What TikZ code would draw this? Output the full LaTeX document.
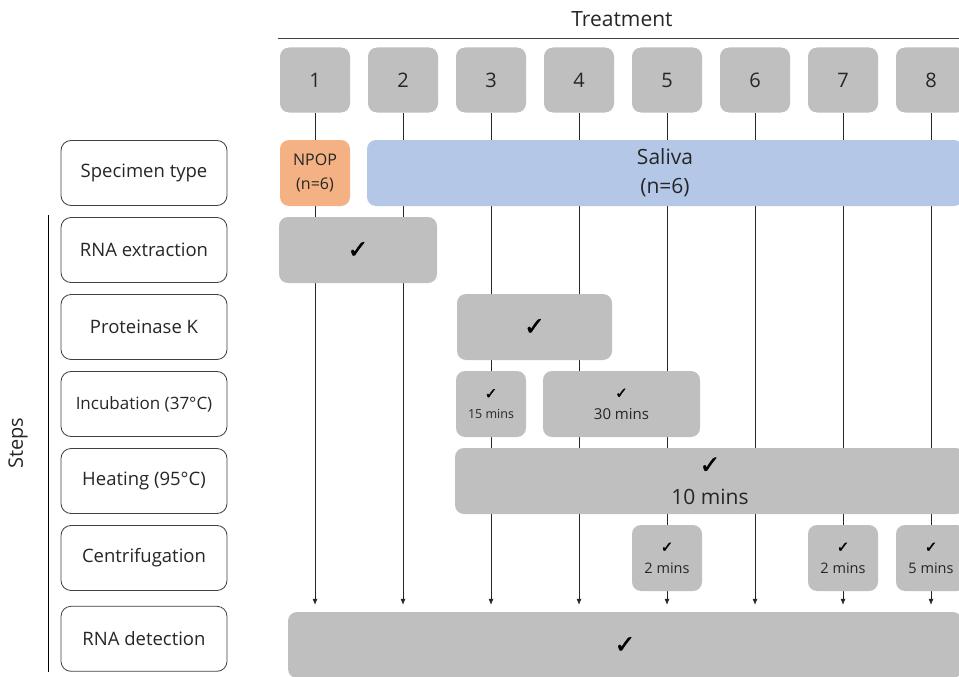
\documentclass[tikz,border=0pt]{standalone}
\usepackage{fontspec}
\setmainfont{Open Sans}
\newfontfamily\tickfont[FakeBold=1.6]{DejaVu Sans}
\usetikzlibrary{arrows.meta, positioning, calc, backgrounds}
\definecolor{cBox}{HTML}{BFBFBF}
\definecolor{cNpop}{HTML}{F4B183}
\definecolor{cSaliva}{HTML}{B4C7E7}
\definecolor{cInk}{HTML}{262626}
\definecolor{cEdge}{HTML}{404040}
\tikzset{
  rowlab/.style={rectangle, rounded corners=10pt, draw=cEdge, line width=0.8pt, fill=white,
    align=center, font=\fontsize{18.5}{22}\selectfont, text=cInk, minimum width=166pt, minimum height=65pt},
  numbox/.style={rectangle, rounded corners=9pt, fill=cBox, font=\fontsize{20}{24}\selectfont,
    text=cInk, minimum width=70pt, minimum height=65pt},
  tickbox/.style={rectangle, rounded corners=9pt, fill=cBox, align=center, text=cInk,
    inner sep=0pt, minimum height=66pt},
  flow/.style={-{Latex[length=6pt, width=5pt]}, draw=black!85, line width=0.6pt, shorten >=7pt},
}
\newcommand{\tick}[1]{{\tickfont\bfseries\fontsize{#1}{#1}\selectfont\color{black}✓}}

\begin{document}
\begin{tikzpicture}[x=1pt, y=-1pt, node distance=11.2pt]
\useasboundingbox (0,0) rectangle (959,677);
\clip (0,0) rectangle (959,677);
% treatment header
\node[font=\fontsize{21}{24}\selectfont, text=cInk] (treat) at (622,19) {Treatment};
\coordinate (rulel) at (278,38); \coordinate (ruler) at (959,38);
\draw[cEdge, line width=0.8pt] (rulel) -- (ruler);
\node[numbox] (t1) at (315,80) {1};
\node[numbox, right=17.6pt of t1] (t2) {2};
\node[numbox, right=17.6pt of t2] (t3) {3};
\node[numbox, right=17.6pt of t3] (t4) {4};
\node[numbox, right=17.6pt of t4] (t5) {5};
\node[numbox, right=17.6pt of t5] (t6) {6};
\node[numbox, right=17.6pt of t6] (t7) {7};
\node[numbox, right=17.6pt of t7] (t8) {8};
% step labels
\node[rowlab] (spec) at (144,173) {Specimen type};
\node[rowlab, below=of spec] (rnaex) {RNA extraction};
\node[rowlab, below=of rnaex] (protk) {Proteinase K};
\node[rowlab, below=of protk, font=\fontsize{17}{20}\selectfont] (incub) {Incubation (37°C)};
\node[rowlab, below=of incub] (heat) {Heating (95°C)};
\node[rowlab, below=of heat] (centr) {Centrifugation};
\node[rowlab, below=15pt of centr] (detect) {RNA detection};
\coordinate (stepstop) at (48,215); \coordinate (stepsbot) at (48,672);
\draw[black, line width=0.8pt] (stepstop) -- (stepsbot);
\node[rotate=90, font=\fontsize{20}{24}\selectfont, text=cInk] (steps) at (18,443) {Steps};
% specimen
\node[tickbox, fill=cNpop, minimum width=70pt, font=\fontsize{16}{24}\selectfont] (npop) at (t1 |- spec) {NPOP\\(n=6)};
\node[tickbox, fill=cSaliva, minimum width=596pt, font=\fontsize{21}{29}\selectfont] (saliva) at (665,173) {Saliva\\(n=6)};
% steps per treatment
\node[tickbox, minimum width=158pt] (exbox) at (358,0 |- rnaex) {\tick{25}};
\node[tickbox, minimum width=155pt] (pkbox) at (534.5,0 |- protk) {\tick{25}};
\node[tickbox, minimum width=70pt, font=\fontsize{12.5}{20}\selectfont] (inc15) at (491,0 |- incub) {\tick{15}\\15 mins};
\node[tickbox, minimum width=157pt, font=\fontsize{15}{21}\selectfont] (inc30) at (621.5,0 |- incub) {\tick{15}\\30 mins};
\node[tickbox, minimum width=510pt, font=\fontsize{21}{31}\selectfont] (heatbox) at (710,0 |- heat) {\tick{25}\\10 mins};
\node[tickbox, minimum width=70pt, font=\fontsize{14.5}{21}\selectfont] (cen5) at (t5 |- centr) {\tick{15}\\2 mins};
\node[tickbox, minimum width=70pt, font=\fontsize{14.5}{21}\selectfont] (cen7) at (t7 |- centr) {\tick{15}\\2 mins};
\node[tickbox, minimum width=70pt, font=\fontsize{14.5}{21}\selectfont] (cen8) at (t8 |- centr) {\tick{15}\\5 mins};
\node[tickbox, minimum width=674pt] (detbox) at (625,645) {\tick{25}};
% treatment flows
\begin{scope}[on background layer]
\draw[flow] (t1) -- (t1 |- detbox.north); \draw[flow] (t2) -- (t2 |- detbox.north);
\draw[flow] (t3) -- (t3 |- detbox.north); \draw[flow] (t4) -- (t4 |- detbox.north);
\draw[flow] (t5) -- (t5 |- detbox.north); \draw[flow] (t6) -- (t6 |- detbox.north);
\draw[flow] (t7) -- (t7 |- detbox.north); \draw[flow] (t8) -- (t8 |- detbox.north);
\end{scope}
\end{tikzpicture}
\end{document}
